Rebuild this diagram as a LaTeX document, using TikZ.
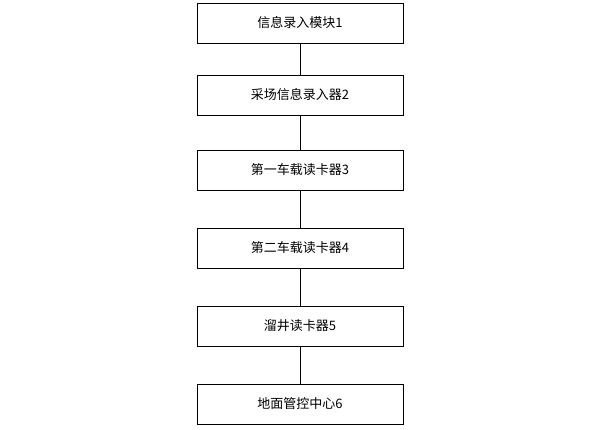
\documentclass[tikz,border=0pt]{standalone}
\usepackage{fontspec}
\newfontfamily\cjk{Noto Sans CJK SC}
\begin{document}
\begin{tikzpicture}[x=1pt,y=-1pt,
  bx/.style={draw,line width=0.8pt,minimum width=206pt,minimum height=40pt,font=\cjk\fontsize{13}{15}\selectfont,inner sep=0pt}]
\useasboundingbox (0,0) rectangle (600,429);
\node[bx] (a) at (300,23) {信息录入模块1};
\node[bx] (b) at (300,95) {采场信息录入器2};
\node[bx] (c) at (300,170) {第一车载读卡器3};
\node[bx] (d) at (300,248) {第二车载读卡器4};
\node[bx] (e) at (300,326) {溜井读卡器5};
\node[bx] (f) at (300,404) {地面管控中心6};
\draw[line width=0.8pt] (a)--(b) (b)--(c) (c)--(d) (d)--(e) (e)--(f);
\end{tikzpicture}
\end{document}
